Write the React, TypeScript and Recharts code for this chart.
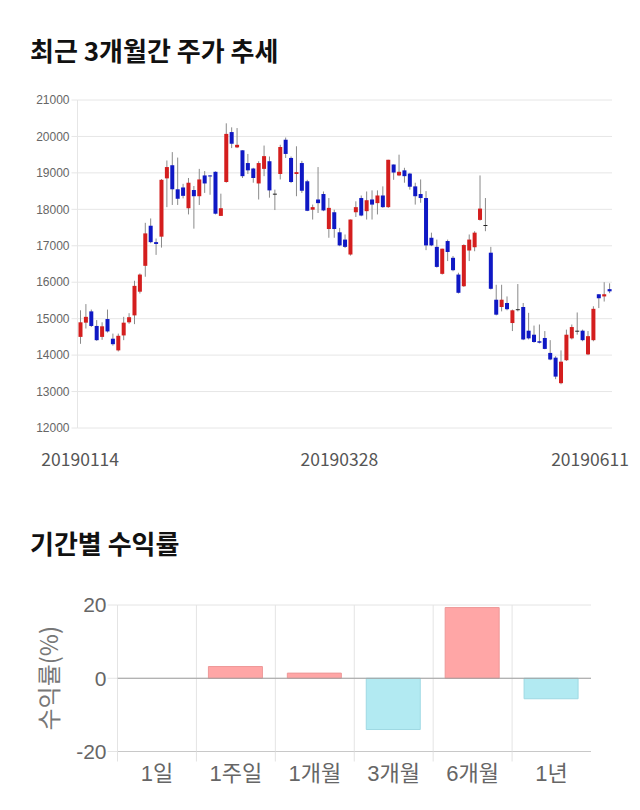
import React from "react";
import { ComposedChart, BarChart, Bar, XAxis, YAxis, CartesianGrid, Cell, ReferenceLine } from "recharts";

// 일봉 (최근 3개월)
const dates = [
  "20190114", "20190115", "20190116", "20190117", "20190118", "20190121", "20190122", "20190123", "20190124", "20190125",
  "20190128", "20190129", "20190130", "20190131", "20190207", "20190208", "20190211", "20190212", "20190213", "20190214",
  "20190215", "20190218", "20190219", "20190220", "20190221", "20190222", "20190225", "20190226", "20190227", "20190228",
  "20190304", "20190305", "20190306", "20190307", "20190308", "20190311", "20190312", "20190313", "20190314", "20190315",
  "20190318", "20190319", "20190320", "20190321", "20190322", "20190325", "20190326", "20190327", "20190328", "20190329",
  "20190401", "20190402", "20190403", "20190404", "20190405", "20190408", "20190409", "20190410", "20190411", "20190412",
  "20190415", "20190416", "20190417", "20190418", "20190419", "20190422", "20190423", "20190424", "20190425", "20190426",
  "20190429", "20190430", "20190502", "20190503", "20190507", "20190508", "20190509", "20190510", "20190513", "20190514",
  "20190515", "20190516", "20190517", "20190520", "20190521", "20190522", "20190523", "20190524", "20190527", "20190528",
  "20190529", "20190530", "20190531", "20190603", "20190604", "20190605", "20190607", "20190610", "20190611",
];

const opens = [
  14500, 14890, 15200, 14800, 14500, 14990, 14450, 14130, 14540, 14900,
  15090, 15740, 16450, 17550, 17100, 17250, 18850, 19210, 18550, 18600,
  18030, 18530, 18360, 18930, 18930, 19030, 17820, 18750, 20120, 19700,
  19620, 19270, 19120, 18710, 19110, 19320, 18430, 18970, 19910, 19410,
  18970, 19270, 18770, 17990, 18270, 18420, 17460, 17920, 17370, 17170,
  16760, 17920, 18310, 17950, 18270, 18170, 18380, 18060, 19230, 18930,
  19070, 18980, 18630, 18420, 18310, 17220, 16970, 16230, 17130, 16670,
  16210, 15890, 16870, 16960, 17710, 17570, 16810, 15520, 15320, 15430,
  14880, 15260, 15320, 14670, 14560, 14380, 14470, 14060, 13930, 13230,
  13860, 14460, 14670, 14670, 14020, 14410, 15670, 15610, 15810,
];
const highs = [
  15230, 15400, 15250, 14960, 14900, 15250, 14590, 14590, 15050, 15150,
  16040, 16240, 17630, 17750, 17200, 18830, 19340, 19570, 19420, 18700,
  18860, 18640, 19110, 19050, 18940, 19040, 18430, 20360, 20250, 20230,
  19620, 19520, 19140, 19320, 19750, 19450, 18540, 19770, 19970, 19450,
  19730, 19330, 18810, 18130, 19160, 18490, 18310, 17990, 17490, 17310,
  17720, 18220, 18380, 18490, 18520, 18520, 18630, 19360, 19230, 19500,
  19140, 19000, 18730, 18820, 18500, 17360, 17170, 16920, 17170, 16720,
  16260, 17040, 17310, 17400, 18930, 18310, 16970, 15930, 15930, 15610,
  15250, 15950, 15430, 15160, 14810, 14840, 14660, 14410, 13970, 14130,
  14700, 14840, 15170, 14700, 14660, 15340, 15670, 16000, 15970,
];
const lows = [
  14310, 14730, 14770, 14390, 14420, 14620, 14260, 14100, 14410, 14860,
  14850, 15690, 16150, 17070, 16750, 16950, 18060, 18120, 18120, 18300,
  17860, 17470, 18120, 18450, 18400, 17860, 17820, 18730, 19680, 19680,
  18860, 18970, 18730, 18270, 18910, 18320, 17980, 18820, 19410, 18720,
  18360, 18450, 17950, 17720, 17900, 17950, 17220, 17220, 16990, 16940,
  16730, 17790, 17810, 17720, 17720, 17860, 18040, 18040, 18810, 18910,
  18730, 18540, 18130, 18180, 16880, 16990, 16400, 16210, 16580, 16300,
  15690, 15870, 16580, 16850, 17690, 17400, 15800, 15090, 15200, 15230,
  14660, 15200, 14410, 14430, 14340, 14320, 14160, 13860, 13340, 13200,
  13840, 14430, 14560, 14380, 14000, 14380, 15290, 15470, 15700,
];
const closes = [
  14900, 15050, 14800, 14410, 14790, 14650, 14300, 14530, 14890, 15040,
  15900, 16210, 17340, 17100, 17050, 18810, 19160, 18550, 18290, 18370,
  18730, 18360, 18820, 18710, 18910, 17880, 18030, 20070, 19800, 19770,
  18910, 19070, 18860, 19270, 19460, 18520, 18430, 19710, 19520, 18750,
  19020, 18510, 17960, 18060, 18170, 17970, 18040, 17460, 17010, 16970,
  17720, 18060, 17830, 18250, 18130, 18380, 18060, 19360, 19010, 19030,
  18910, 18620, 18360, 18310, 17010, 17010, 16420, 16920, 16830, 16330,
  15710, 17020, 17170, 17360, 18020, 17570, 15820, 15110, 15520, 15260,
  15230, 15260, 14430, 14460, 14360, 14340, 14170, 13880, 13410, 13820,
  14560, 14770, 14670, 14410, 14520, 15270, 15560, 15670, 15750,
];

const priceTicks = [12000, 13000, 14000, 15000, 16000, 17000, 18000, 19000, 20000, 21000];
const dateTicks = ["20190114", "20190328", "20190611"];

// 기간별 수익률
const periods = ["1일", "1주일", "1개월", "3개월", "6개월", "1년"];
const returns = [0, 3.2, 1.4, -14.0, 19.3, -5.6];
const returnTicks = [-20, 0, 20];

const RED = "#d41e1e";
const BLUE = "#0f18c4";
const DOJI = "#222";

const candles = dates.map((date, i) => ({
  date,
  open: opens[i],
  high: highs[i],
  low: lows[i],
  close: closes[i],
  range: [lows[i], highs[i]],
}));

const returnData = periods.map((p, i) => ({ period: p, value: returns[i] }));

const Candle = (props: any) => {
  const { x, y, width, height, payload } = props;
  const { open, close, high, low } = payload;
  const top = Math.min(y, y + height);
  const h = Math.abs(height);
  const span = high - low || 1;
  const toY = (v: number) => top + ((high - v) / span) * h;
  const color = close > open ? RED : close < open ? BLUE : DOJI;
  const cx = x + width / 2;
  const bTop = toY(Math.max(open, close));
  const bBot = toY(Math.min(open, close));
  return (
    <g>
      <line x1={cx} x2={cx} y1={top} y2={top + h} stroke="#8a8a8a" strokeWidth={1} />
      <rect x={x} y={bTop} width={width} height={Math.max(1, bBot - bTop)} fill={color} />
    </g>
  );
};

const DateTick = (props: any) => {
  const { x, y, payload } = props;
  const cx = Math.min(x, 629 - 39);
  return (
    <text x={cx} y={y + 38} textAnchor="middle" fill="#555" fontSize={17.5} fontFamily="'Noto Sans CJK KR', sans-serif">
      {payload.value}
    </text>
  );
};

const PeriodTick = (props: any) => {
  const { x, y, payload, width, visibleTicksCount } = props;
  const bw = width / (visibleTicksCount || 6);
  const lx = x - bw / 2;
  return (
    <g>
      <line x1={lx} x2={lx} y1={y} y2={y + 10} stroke="#e2e2e2" />
      <text x={x} y={y + 29} textAnchor="middle" fill="#666" fontSize={22} fontFamily="'Liberation Sans', 'Noto Sans CJK KR', sans-serif">
        {payload.value}
      </text>
    </g>
  );
};

const titleStyle: React.CSSProperties = {
  position: "absolute",
  left: 30,
  fontSize: 26,
  fontWeight: 700,
  lineHeight: "26px",
  color: "#111",
  fontFamily: "'Noto Sans CJK KR', sans-serif",
};

export default function App() {
  return (
    <div style={{ position: "absolute", left: 0, top: 0, width: 640, height: 810, background: "#fff" }}>
      <div style={{ ...titleStyle, top: 37 }}>최근 3개월간 주가 추세</div>

      <div style={{ position: "absolute", left: 0, top: 0 }}>
        <ComposedChart
          width={640}
          height={480}
          data={candles}
          margin={{ top: 100, right: 28, left: 17.5, bottom: 12 }}
          barCategoryGap={0}
        >
          <CartesianGrid stroke="#e6e6e6" vertical={false} />
          <XAxis
            dataKey="date"
            ticks={dateTicks}
            interval={0}
            tickLine={false}
            axisLine={false}
            tickSize={0}
            tickMargin={0}
            height={40}
            tick={<DateTick />}
          />
          <YAxis
            domain={[12000, 21000]}
            ticks={priceTicks}
            width={60}
            axisLine={{ stroke: "#e6e6e6" }}
            tickLine={{ stroke: "#e6e6e6" }}
            tickSize={6}
            tickMargin={2}
            tick={{ fill: "#666", fontSize: 12, fontFamily: "'Liberation Sans', Arial, sans-serif" }}
          />
          <Bar dataKey="range" barSize={4} shape={<Candle />} isAnimationActive={false} />
        </ComposedChart>
      </div>

      <div style={{ ...titleStyle, top: 530 }}>기간별 수익률</div>

      <div style={{ position: "absolute", left: 0, top: 580 }}>
        <BarChart
          width={640}
          height={220}
          data={returnData}
          margin={{ top: 25, right: 49, left: 20, bottom: 18.5 }}
        >
          <CartesianGrid
            stroke="#e4e4e4"
            verticalCoordinatesGenerator={({ offset }: any) =>
              periods.map((_, i) => offset.left + (i * offset.width) / periods.length)
            }
          />
          <XAxis
            dataKey="period"
            interval={0}
            tickLine={false}
            axisLine={{ stroke: "#c8c8c8" }}
            tickSize={0}
            tickMargin={0}
            height={30}
            tick={<PeriodTick />}
          />
          <YAxis
            domain={[-20, 20]}
            ticks={returnTicks}
            width={97.5}
            axisLine={false}
            tickLine={{ stroke: "#e4e4e4" }}
            tickSize={10}
            tickMargin={1}
            tick={{ fill: "#666", fontSize: 21, fontFamily: "'Liberation Sans', Arial, sans-serif" }}
            label={({ viewBox }: any) => (
              <text
                x={viewBox.x + 27}
                y={viewBox.y + viewBox.height / 2}
                transform={`rotate(-90, ${viewBox.x + 27}, ${viewBox.y + viewBox.height / 2})`}
                textAnchor="middle"
                dominantBaseline="central"
                fill="#777"
                fontSize={24}
                fontFamily="'Noto Sans CJK KR', sans-serif"
              >
                수익률(%)
              </text>
            )}
          />
          <ReferenceLine y={0} stroke="#a0a0a0" />
          <Bar dataKey="value" barSize={54} isAnimationActive={false}>
            {returnData.map((d, i) => (
              <Cell
                key={i}
                fill={d.value >= 0 ? "#ffa6a6" : "#b2eaf2"}
                stroke={d.value >= 0 ? "#ee9898" : "#9ed9e3"}
              />
            ))}
          </Bar>
        </BarChart>
      </div>
    </div>
  );
}
